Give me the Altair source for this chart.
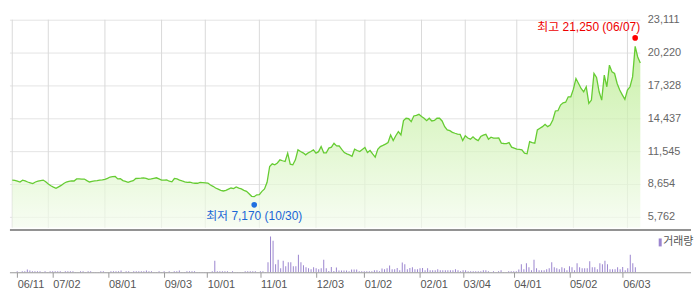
import altair as alt
import pandas as pd

# ---- data (daily trading sessions, 2018-06-11 .. 2019-06-11) ----
price = [
    8990, 8970, 8900, 8830, 8990, 8920, 8830, 8760, 8690, 8830,
    8900, 8960, 9000, 8850, 8650, 8500, 8380, 8270, 8400, 8530,
    8700, 8830, 8880, 8920, 8920, 9100, 9100, 9090, 9090, 8950,
    8830, 8880, 8920, 8950, 9000, 9020, 9060, 9150, 9270, 9300,
    9320, 9100, 9120, 8950, 8880, 8800, 8880, 8950, 9140, 9150,
    9170, 9200, 9150, 9060, 9100, 9150, 9200, 9100, 9000, 9000,
    9010, 8900, 8850, 9140, 9100, 9000, 8920, 8850, 8800, 8820,
    8760, 8720, 8720, 8800, 8780, 8760, 8740, 8560, 8450, 8300,
    8200, 8100, 8040, 8090, 8200, 8300, 8250, 8390, 8300, 8220,
    8100, 8010, 7800, 7570, 7540, 7700, 7720, 8010, 8220, 8800,
    10200, 10430, 10340, 10500, 10780, 10700, 10630, 11370, 10400, 10340,
    10780, 11660, 11510, 11400, 11220, 11400, 11510, 11660, 11370, 11500,
    11950, 11400, 11400, 11810, 11900, 12240, 12010, 12000, 11700, 11420,
    11300, 11220, 11100, 11720, 11600, 11510, 11700, 11860, 11420, 11600,
    11300, 11020, 11700, 11950, 12050, 12160, 12300, 12970, 12480, 12900,
    13260, 12970, 14230, 14440, 14400, 14140, 14640, 14700, 14790, 14600,
    14440, 14230, 14440, 14200, 14250, 14440, 14440, 14200, 13700, 13410,
    13350, 13200, 13120, 13050, 13030, 12480, 12890, 12700, 12600, 12800,
    12600, 12470, 12830, 12950, 13030, 12600, 12770, 12700, 12700, 12710,
    12250, 12220, 12210, 12300, 11900, 11810, 11720, 11700, 11660, 11370,
    11310, 12390, 12300, 12250, 13410, 13560, 13700, 13910, 13700, 13850,
    14290, 15080, 15100, 15600, 15800, 15850, 16330, 16330, 17000, 17940,
    17500, 17060, 16770, 17210, 15750, 16040, 18380, 18030, 16770, 16040,
    18230, 17210, 19110, 18520, 18380, 17500, 16920, 16500, 16100, 16920,
    17210, 18080, 20770, 19830, 19300,
]

# volume in units of 100k shares
volume = [
    1, 0.3, 1, 1, 2.7, 1.7, 1, 1, 1, 1,
    0.3, 1, 0.3, 1, 1, 1, 1, 1, 0.3, 1,
    1, 1, 1, 0.3, 0.3, 1, 1, 0.3, 1, 1,
    0.3, 0.3, 0.3, 1, 1, 0.3, 0.3, 1, 1, 1,
    1, 1.7, 0.3, 1, 1, 0.3, 1, 1, 1, 1,
    1, 1.7, 1, 1, 0.3, 0.3, 1, 0.3, 1, 0.3,
    1, 0.3, 1, 1, 1.7, 0.3, 0.3, 1, 1, 1,
    1, 0.3, 0.3, 0.3, 0.3, 0.3, 0.3, 1, 11.7, 1,
    1, 1, 1, 1, 0.3, 1, 0.3, 0.3, 0.3, 0.3,
    1, 1, 1, 1, 1, 0.3, 1, 1, 0.3, 10,
    36, 31.7, 8, 12.7, 4, 11.7, 6, 10, 10, 6,
    6, 17.7, 10, 7, 5, 4, 3, 5, 4, 3,
    4, 12.7, 4, 1.3, 5.3, 1.3, 4.7, 1.7, 1.7, 1.7,
    1.7, 1, 2.7, 2.7, 2.7, 1, 1, 1, 1, 1,
    1, 2, 2, 1, 3.7, 3, 4, 6.7, 3, 3,
    4.3, 2, 9.7, 8, 3, 4.3, 5, 3, 3, 4,
    4.3, 2, 4, 2, 2, 2, 3, 2, 2, 2,
    2, 2, 2, 3, 2, 1, 2, 2, 1, 1,
    1, 1, 1, 1, 2, 2, 1, 0.3, 1, 0.3,
    1, 2, 0.3, 0.3, 1, 1, 1, 1, 2.7, 8,
    3, 9, 5, 2, 12.7, 4, 2, 2, 2, 3,
    4, 10, 5, 4, 3, 5, 4, 2, 6, 5,
    2, 9, 5, 4, 4, 4, 11, 5, 5, 3,
    9, 8, 11.7, 8, 3, 3, 3, 5, 3, 5.3,
    2, 4, 17.7, 9, 5,
]

tick_idx = [0, 14, 36, 58, 75, 96, 118, 137, 159, 176, 196, 218, 239]
tick_lbl = ["06/11", "07/02", "08/01", "09/03", "10/01", "11/01", "12/03",
            "01/02", "02/01", "03/04", "04/01", "05/02", "06/03"]
y_ticks = [5762, 8654, 11545, 14437, 17328, 20220, 23111]
Y_MIN, Y_MAX = 4824, 23111
X_MIN, X_MAX = -0.9, 244
VOL_MAX = 43

high_idx, high_val, high_label = 242, 21250, "최고 21,250 (06/07)"
low_idx, low_val, low_label = 94, 7170, "최저 7,170 (10/30)"
vol_label = "거래량"

FONT = "Liberation Sans"
KFONT = "Liberation Sans, Noto Sans CJK KR"
HGRID = "#e4e4e4"
VGRID = "#dadada"

df = pd.DataFrame({"i": list(range(len(price))), "price": price, "vol": volume})
hi_df = pd.DataFrame({"i": [high_idx], "price": [high_val], "t": [high_label]})
lo_df = pd.DataFrame({"i": [low_idx], "price": [low_val], "t": [low_label]})
one = pd.DataFrame({"k": [0]})
xt_df = pd.DataFrame({"i": tick_idx})
yt_df = pd.DataFrame({"price": y_ticks})

xs = alt.Scale(domain=[X_MIN, X_MAX], nice=False, zero=False)
ys = alt.Scale(domain=[Y_MIN, Y_MAX], nice=False, zero=False)

x_top = alt.X("i:Q", scale=xs, title=None, axis=None)
y_top = alt.Y("price:Q", scale=ys, title=None,
              axis=alt.Axis(orient="right", values=y_ticks, format=",d", grid=False,
                            ticks=False, tickSize=0,
                            domain=False, labelColor="#666666", labelFont=FONT,
                            labelFontSize=11, labelPadding=7, labelFlush=False,
                            labelOverlap=False, tickCount=7))

# invisible spacer that fixes the top margin of the chart
spacer = alt.Chart(one).mark_rule(strokeWidth=0, opacity=0).encode(
    x=alt.value(0), y=alt.value(-19), y2=alt.value(0))

vgrid = alt.Chart(xt_df).mark_rule(color=VGRID, strokeWidth=1, opacity=1).encode(
    x=x_top, y=alt.value(0), y2=alt.value(209))
hgrid = alt.Chart(yt_df).mark_rule(color=HGRID, strokeWidth=1, opacity=1, yOffset=0.5).encode(
    y=y_top, x=alt.value(0), x2=alt.value(634))

area = alt.Chart(df).mark_area(
    color=alt.Gradient(gradient="linear",
                       stops=[alt.GradientStop(color="#b3ea84", offset=0),
                              alt.GradientStop(color="#f4fcee", offset=1)],
                       x1=0, x2=0, y1=0, y2=1),
    opacity=0.7,
).encode(x=x_top, y=y_top, y2=alt.datum(Y_MIN))

line = alt.Chart(df).mark_line(color="#66cc33", strokeWidth=1.3).encode(x=x_top, y=y_top)

hi_pt = alt.Chart(hi_df).mark_circle(color="#ff0000", size=32, opacity=1, yOffset=-3).encode(
    x=x_top, y=y_top)
hi_tx = alt.Chart(hi_df).mark_text(color="#ee0000", align="right", baseline="middle",
                                   dx=5, dy=-14, font=KFONT, fontSize=12).encode(
    x=x_top, y=y_top, text="t:N")
lo_pt = alt.Chart(lo_df).mark_circle(color="#1f6fe0", size=32, opacity=1, yOffset=4).encode(
    x=x_top, y=y_top)
lo_tx = alt.Chart(lo_df).mark_text(color="#1a66d6", align="center", baseline="middle",
                                   dy=15, font=KFONT, fontSize=12).encode(
    x=x_top, y=y_top, text="t:N")

top = alt.layer(hgrid, vgrid, spacer, area, line, hi_pt, hi_tx, lo_pt, lo_tx).properties(
    width=634, height=209)

lbl_expr = "[" + ",".join("'%s'" % s for s in tick_lbl) + "][indexof([" + \
    ",".join(str(v) for v in tick_idx) + "], datum.value)]"

x_bot = alt.X("i:Q", scale=xs, title=None,
              axis=alt.Axis(values=tick_idx, labelExpr=lbl_expr, labelAlign="left",
                            labelPadding=1, labelColor="#555555", labelFont=FONT,
                            labelFontSize=11, ticks=True, tickSize=5, tickColor="#999999",
                            domain=False, grid=False, labelFlush=False, labelOverlap=False))

bars = alt.Chart(df).mark_bar(size=1, color="#9b85cf").encode(
    x=x_bot,
    y=alt.Y("vol:Q", scale=alt.Scale(domain=[0, VOL_MAX], nice=False), axis=None))

sep = alt.Chart(one).mark_rule(color="#6e6e6e", strokeWidth=1.4, yOffset=0.5).encode(
    x=alt.value(0), x2=alt.value(685), y=alt.value(0))
base = alt.Chart(one).mark_rule(color="#999999", strokeWidth=1, yOffset=0.5).encode(
    x=alt.value(0), x2=alt.value(685), y=alt.value(43))
sq = alt.Chart(one).mark_rule(color="#9b85cf", strokeWidth=3).encode(
    x=alt.value(654), y=alt.value(9), y2=alt.value(17))
lt = alt.Chart(one).mark_text(color="#555555", align="left", baseline="middle",
                              font=KFONT, fontSize=11).encode(
    x=alt.value(657), y=alt.value(13), text=alt.value(vol_label))

bottom = alt.layer(bars, sep, base, sq, lt).properties(width=634, height=43)

chart = alt.vconcat(top, bottom, spacing=0).properties(
    padding={"left": 9, "top": 0, "right": 0, "bottom": 0},
    background="white",
).configure_view(stroke=None).configure_axis(labelOverlap=False)

chart.save("out.html", embed_options={"renderer": "svg", "actions": False})
